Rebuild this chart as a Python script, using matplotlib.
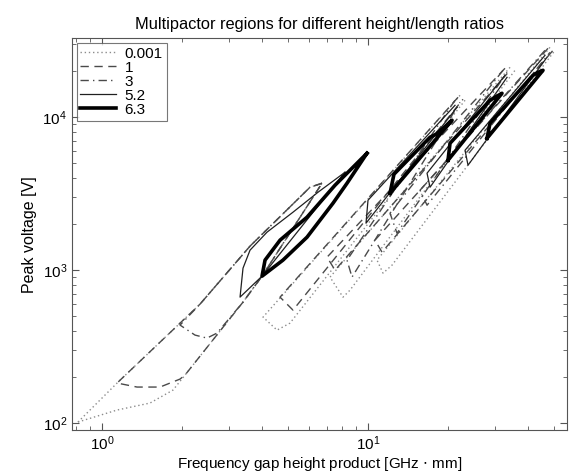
import matplotlib
matplotlib.use("Agg")
import matplotlib.pyplot as plt

plt.rcParams['font.family'] = ['Liberation Sans', 'DejaVu Sans']

# legend labels (height/length ratios)
ratios = ['0.001', '1', '3', '5.2', '6.3']

# each ratio: list of polylines (x in GHz*mm, y in V)
r0001 = [
    ([0.812, 1.139, 2.336, 3.601, 6.053, 6.715], [101.5, 182.6, 599.5, 1436, 3486, 3703]),
    ([0.812, 1.139, 1.515, 1.849, 2.051, 3.389, 3.996, 6.715], [101.5, 121.6, 135.1, 164.3, 205.9, 617.9, 913.6, 3703]),
    ([22.18, 4.031, 4.550, 5.090, 23.16], [13922, 493, 405.3, 450.4, 12915]),
    ([34.20, 7.197, 8.054, 8.557, 35.70], [21226, 900, 666, 740, 20290]),
    ([48.32, 10.81, 11.39, 12.31, 50.47], [28682, 1163, 955.8, 1078, 27410]),
]
r1 = [
    ([6.715, 6.053, 3.601, 2.336, 1.139, 1.354, 1.652, 1.965, 2.051, 3.389, 3.996, 6.715],
     [3703, 3486, 1436, 599.5, 182.6, 171.9, 171.9, 193.9, 205.9, 617.9, 913.6, 3703]),
    ([21.80, 4.670, 5.224, 22.76], [13513, 666, 547.6, 13113]),
    ([32.73, 7.015, 7.516, 34.20], [20910, 1216, 1000, 20290]),
    ([47.50, 10.62, 11.29, 49.61], [28250, 1571, 1311, 27410]),
]
r3 = [
    ([6.715, 6.053, 3.601, 2.336, 1.965, 2.237, 2.481, 2.706, 3.389, 3.996, 6.715],
     [3703, 3486, 1436, 599.5, 437.1, 376.0, 359.4, 387.5, 617.9, 913.6, 3703]),
    ([21.24, 8.339, 8.706, 22.18], [12915, 1163, 900, 12532]),
    ([32.18, 12.10, 12.85, 33.32], [20290, 2358, 1745, 19680]),
    ([46.28, 15.69, 16.67, 48.32], [27410, 3334, 2659, 26590]),
]
r52 = [
    ([8.196, 6.49, 5.224, 4.172, 3.601, 3.389, 3.303, 3.996, 8.196],
     [4370, 3235, 2394, 1772, 1351, 1030.6, 666.2, 913.6, 4370]),
    ([21.24, 10.0, 9.829, 21.61], [11980, 2867, 2029, 11625]),
    ([32.73, 16.67, 17.11, 33.32], [18814, 4306, 3486, 18260]),
    ([46.28, 23.16, 23.77, 47.09], [25430, 6085, 4857, 24680]),
]
r63 = [
    ([9.913, 7.516, 5.898, 4.670, 4.101, 3.996, 4.789, 5.898, 7.386, 8.339, 9.913],
     [5818, 3594, 2220, 1571, 1163, 913.6, 1163, 1643, 2741, 3703, 5818]),
    ([12.10, 12.52, 17.11, 18.01, 18.98, 20.70, 12.10], [3187, 4241, 7402, 7744, 8348, 9560, 3187]),
    ([19.99, 20.34, 28.76, 30.03, 31.90, 19.99], [5236, 6762, 12915, 13513, 14355, 5236]),
    ([28.02, 28.76, 41.73, 43.57, 45.50, 28.02], [7291, 9138, 18814, 19680, 20290, 7291]),
]

fig = plt.figure(figsize=(5.69, 4.76), dpi=100)
ax = fig.add_axes([0.1265, 0.0966, 0.8700, 0.8227])

styles = [
    dict(ls=(0, (1, 2)), color='#8c8c8c', lw=1.0),
    dict(ls=(0, (6, 4)), color='#4a4a4a', lw=1.0),
    dict(ls=(0, (6, 3, 1, 3)), color='#4a4a4a', lw=1.0),
    dict(ls='-', color='#202020', lw=0.9),
    dict(ls='-', color='black', lw=2.6),
]

for lab, segs, st in zip(ratios, [r0001, r1, r3, r52, r63], styles):
    for i, (xs, ys) in enumerate(segs):
        ax.plot(xs, ys, label=lab if i == 0 else None, **st)

ax.set_xscale('log')
ax.set_yscale('log')
ax.set_xlim(0.771, 56)
ax.set_ylim(90, 32800)
ax.tick_params(which='both', direction='in', top=True, right=True, labelsize=11, color='#555555')
ax.tick_params(which='major', length=5)
ax.tick_params(which='minor', length=3)
for s in ax.spines.values():
    s.set_color('#555555')

ax.set_title('Multipactor regions for different height/length ratios', fontsize=11.8, pad=7)
ax.set_xlabel('Frequency gap height product [GHz $\\cdot$ mm]', fontsize=11, labelpad=1)
ax.set_ylabel('Peak voltage [V]', fontsize=11.5)

leg = ax.legend(loc='upper left', fontsize=11, frameon=True, fancybox=False,
                borderpad=0.25, labelspacing=0.0, handlelength=2.3, handletextpad=0.6,
                borderaxespad=0.3)
leg.get_frame().set_edgecolor('#555555')
leg.get_frame().set_linewidth(0.8)

fig.savefig('out.png', dpi=100)
